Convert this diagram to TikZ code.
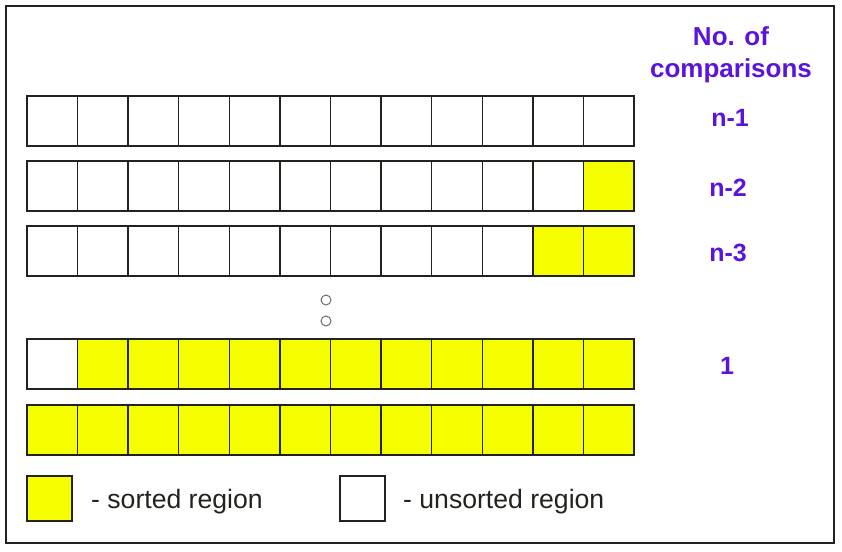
\documentclass[tikz,border=0pt]{standalone}
\usepackage{fontspec}
\setmainfont{Liberation Sans}
\definecolor{sortyel}{RGB}{245,255,0}
\definecolor{cmpviolet}{RGB}{90,20,220}
\definecolor{linegray}{RGB}{35,35,30}
\begin{document}
\begin{tikzpicture}[x=1pt,y=-1pt,
  cellbox/.style={draw=linegray,line width=1.4pt,minimum width=50.58pt,minimum height=50pt,inner sep=0pt,outer sep=0pt},
  legbox/.style={draw=linegray,line width=1.4pt,minimum width=45pt,minimum height=45pt,inner sep=0pt,outer sep=0pt},
  cmplabel/.style={text=cmpviolet,font=\fontsize{25}{30}\selectfont\bfseries,inner sep=0pt,align=center},
  legtext/.style={text=linegray,font=\fontsize{26.6}{30}\selectfont,inner sep=0pt,anchor=west},
  dotmark/.style={circle,draw=gray!85!black,line width=1pt,minimum size=10pt,inner sep=0pt}]
\useasboundingbox (0,0) rectangle (842,551);
\draw[linegray,line width=1.5pt] (6,6) rectangle (834,543);
\foreach \r/\yc/\k in {1/121/0,2/186/1,3/251/2,4/364/11,5/430/12} {
  \foreach \c in {1,...,12} {
    \pgfmathsetmacro\xc{27+50.583*(\c-0.5)}
    \ifnum\c>\numexpr12-\k\relax\def\cf{sortyel}\else\def\cf{white}\fi
    \node[cellbox,fill=\cf] (cell-\r-\c) at (\xc,\yc) {};
  }
}
\node[cmplabel,font=\fontsize{26}{32}\selectfont\bfseries] (head) at (731,55) {No. of\\comparisons};
\node[cmplabel] (lab1) at (730,118) {n-1};
\node[cmplabel] (lab2) at (728,188) {n-2};
\node[cmplabel] (lab3) at (728,253) {n-3};
\node[cmplabel] (lab4) at (727,366) {1};
\node[dotmark] (dot1) at (326,300) {};
\node[dotmark] (dot2) at (326,321) {};
\node[legbox,fill=sortyel] (legS) at (49.5,498.5) {};
\node[legtext] (legStext) at (91,502) {- sorted region};
\node[legbox,fill=white] (legU) at (362.5,498.5) {};
\node[legtext] (legUtext) at (403,502) {- unsorted region};
\end{tikzpicture}
\end{document}
